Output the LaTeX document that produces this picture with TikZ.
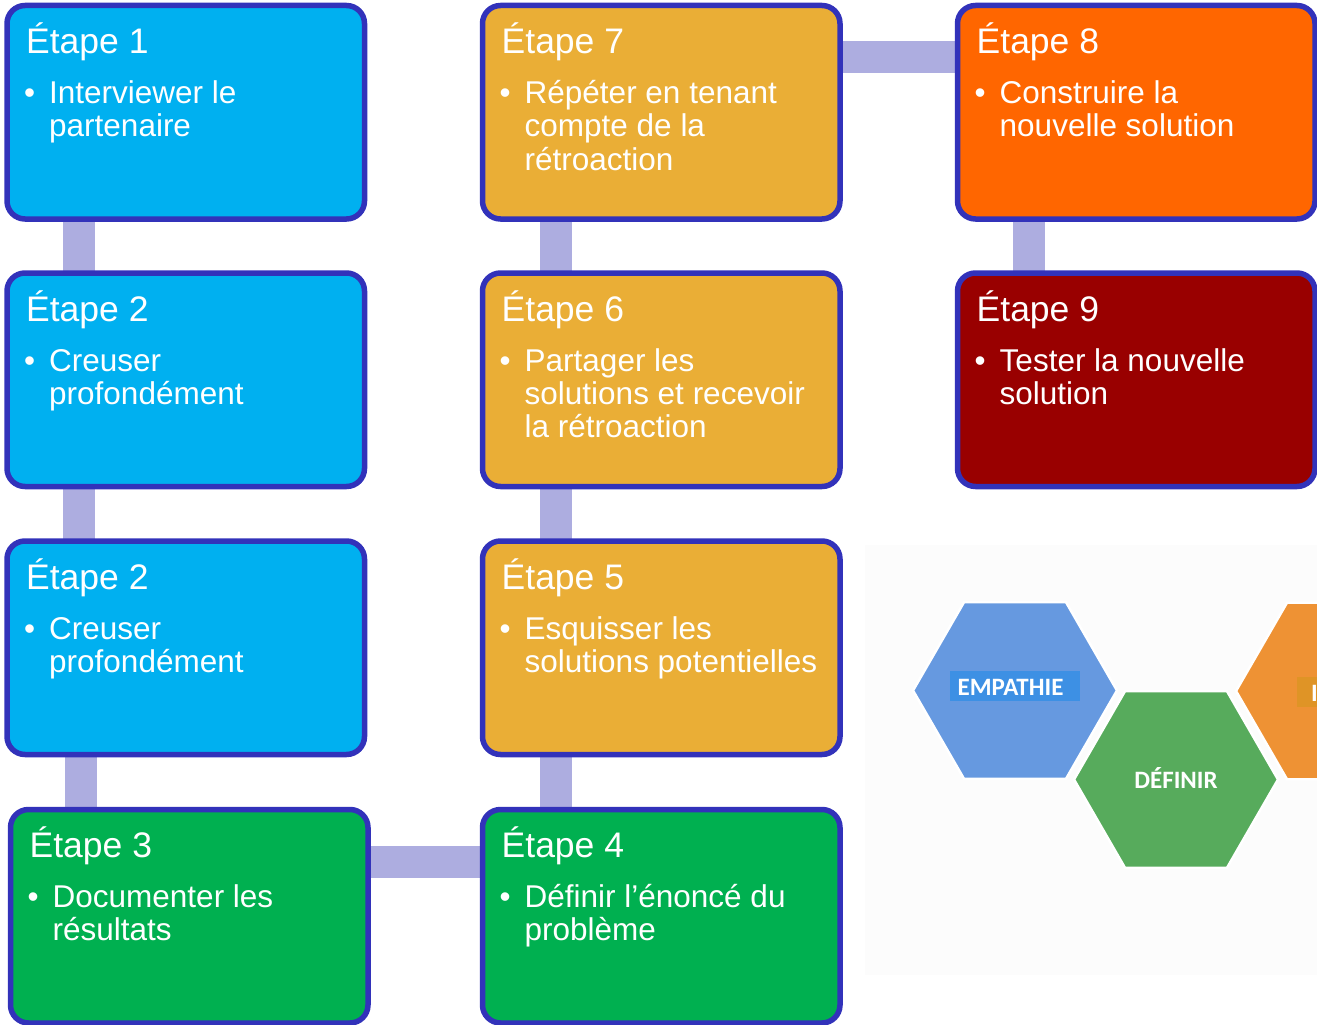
\documentclass[tikz,border=0pt]{standalone}
\usepackage{fontspec}
\setmainfont{Liberation Sans}
\newfontfamily\hexfont{Carlito}
\usetikzlibrary{calc,shapes.geometric,backgrounds}
\definecolor{bordc}{HTML}{3232BA}
\definecolor{connc}{HTML}{ADADE0}
\definecolor{cblue}{HTML}{00B0F0}
\definecolor{cyel}{HTML}{EAAE36}
\definecolor{corg}{HTML}{FF6600}
\definecolor{cred}{HTML}{990000}
\definecolor{cgreen}{HTML}{00B050}
\definecolor{hblue}{HTML}{6699E0}
\definecolor{hblbox}{HTML}{3D90E4}
\definecolor{hgreen}{HTML}{57AB5C}
\definecolor{horange}{HTML}{EE9234}
\definecolor{holbox}{HTML}{DF9426}
\definecolor{patch}{HTML}{FCFCFC}
\tikzset{
  stepbox/.style={draw=bordc, line width=5.5pt, rounded corners=18pt, inner sep=0pt, outer sep=0pt,
    minimum width=357.5pt, minimum height=213.5pt},
  ttl/.style={inner sep=0pt, anchor=base west, text=white, font=\fontsize{35.5}{40}\selectfont},
  bdy/.style={inner sep=0pt, anchor=base west, text=white, font=\fontsize{31.5}{33}\selectfont},
  conn/.style={draw=connc, line width=32pt},
  hexa/.style={regular polygon, regular polygon sides=6, minimum size=204pt, inner sep=0pt,
    draw=white, line width=2.5pt},
  hexlbl/.style={text=white, font=\hexfont\bfseries\fontsize{25}{27}\selectfont, inner sep=0pt, anchor=base},
}
\newcommand{\etapebox}[6]{%
  \node[stepbox, fill=#4] (#1) at ({#2+178.75}, {#3+106.75}) {};
  \node[ttl] (#1t) at ({#2+19}, {#3+48}) {#5};
  \node[bdy] (#1b) at ({#2+17}, {#3+98}) {•};
  \foreach \lin [count=\i] in {#6} {\node[bdy] (#1l\i) at ({#2+42}, {#3+98+33.3*(\i-1)}) {\lin};}
}
\begin{document}
\begin{tikzpicture}[x=1pt, y=-1pt]
\useasboundingbox (0,0) rectangle (1317,1025);
\fill[patch] (865,545) rectangle (1317,975);

\etapebox{b1}{7}{5.5}{cblue}{Étape 1}{Interviewer le,partenaire}
\etapebox{b2}{7}{273}{cblue}{Étape 2}{Creuser,profondément}
\etapebox{b2b}{7}{541}{cblue}{Étape 2}{Creuser,profondément}
\etapebox{b3}{10.5}{809.5}{cgreen}{Étape 3}{Documenter les,résultats}
\etapebox{b4}{482.5}{809.5}{cgreen}{Étape 4}{Définir l’énoncé du,problème}
\etapebox{b5}{482.5}{541}{cyel}{Étape 5}{Esquisser les,solutions potentielles}
\etapebox{b6}{482.5}{273}{cyel}{Étape 6}{Partager les,solutions et recevoir,la rétroaction}
\etapebox{b7}{482.5}{5.5}{cyel}{Étape 7}{Répéter en tenant,compte de la,rétroaction}
\etapebox{b8}{957.5}{5.5}{corg}{Étape 8}{Construire la,nouvelle solution}
\etapebox{b9}{957.5}{273}{cred}{Étape 9}{Tester la nouvelle,solution}

\begin{scope}[on background layer]
  \draw[conn] ($(b1.south west)+(72,0)$) -- ($(b2.north west)+(72,0)$);
  \draw[conn] ($(b2.south west)+(72,0)$) -- ($(b2b.north west)+(72,0)$);
  \draw[conn] ($(b2b.south west)+(74,0)$) -- ($(b3.north west)+(70.5,0)$);
  \draw[conn] ($(b3.north east)+(0,52)$) -- ($(b4.north west)+(0,52)$);
  \draw[conn] ($(b4.north west)+(73,0)$) -- ($(b5.south west)+(73,0)$);
  \draw[conn] ($(b5.north west)+(73,0)$) -- ($(b6.south west)+(73,0)$);
  \draw[conn] ($(b6.north west)+(73,0)$) -- ($(b7.south west)+(73,0)$);
  \draw[conn] ($(b7.north east)+(0,51.5)$) -- ($(b8.north west)+(0,51.5)$);
  \draw[conn] ($(b8.south west)+(71.5,0)$) -- ($(b9.north west)+(71.5,0)$);
\end{scope}

\begin{scope}
  \clip (0,0) rectangle (1317,1025);
  \node[hexa, fill=horange] (hexo) at (1338,691) {};
  \node[hexa, fill=hblue] (hexb) at (1015,690.5) {};
  \node[hexa, fill=hgreen] (hexg) at (1176,779.5) {};
  \node[fill=hblbox, minimum width=130pt, minimum height=30pt, inner sep=0pt] (empbox) at (1015,686) {};
  \node[hexlbl] (emp) at (1010.5,695) {EMPATHIE};
  \node[hexlbl] (def) at (1176,788) {DÉFINIR};
  \node[fill=holbox, minimum width=46pt, minimum height=30pt, inner sep=0pt] (idbox) at (1320,692) {};
  \node[hexlbl, anchor=base west] (ide) at (1311,701) {I};
\end{scope}
\end{tikzpicture}
\end{document}
